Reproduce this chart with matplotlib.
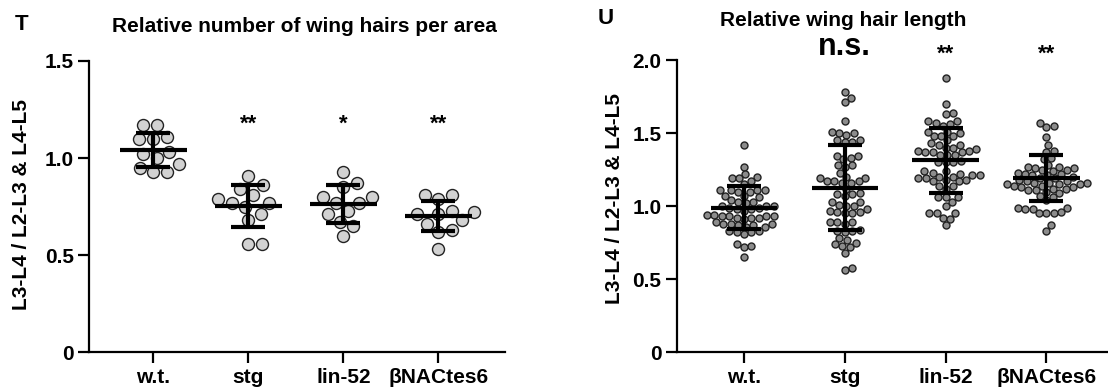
import numpy as np
import matplotlib
matplotlib.use('Agg')
import matplotlib.pyplot as plt

plt.rcParams['font.family'] = ['Liberation Sans', 'DejaVu Sans']
plt.rcParams['font.weight'] = 'bold'

groups = ['w.t.', 'stg', 'lin-52', 'βNACtes6']

# Panel T: relative number of wing hairs per area
hairs_wt = [1.17, 1.10, 1.00, 0.93, 1.17, 1.10, 1.03, 0.95, 1.11, 1.02, 0.97, 0.93]
hairs_stg = [0.91, 0.81, 0.75, 0.68, 0.77, 0.86, 0.79, 0.71, 0.84, 0.77, 0.56, 0.56]
hairs_lin52 = [0.85, 0.77, 0.67, 0.77, 0.93, 0.60, 0.80, 0.73, 0.65, 0.87, 0.80, 0.71]
hairs_bnac = [0.81, 0.81, 0.79, 0.73, 0.72, 0.71, 0.71, 0.68, 0.66, 0.63, 0.62, 0.53]
hairs_mean = [1.04, 0.753, 0.763, 0.702]
hairs_sd = [0.088, 0.108, 0.097, 0.078]
hairs_sig = ['', '**', '*', '**']

# Panel U: relative wing hair length
length_wt = [1.42, 1.27, 1.22, 1.20, 1.19, 1.19, 1.17, 1.15, 1.11, 1.11, 1.10, 1.11,
             1.10, 1.11, 1.07, 1.06, 1.07, 1.03, 1.02, 1.03, 1.04, 1.00, 0.99, 1.00,
             0.98, 1.00, 0.99, 0.97, 0.98, 0.94, 0.93, 0.92, 0.93, 0.94, 0.92, 0.93,
             0.91, 0.93, 0.92, 0.88, 0.87, 0.86, 0.88, 0.87, 0.86, 0.89, 0.88, 0.83,
             0.82, 0.81, 0.83, 0.82, 0.74, 0.73, 0.72, 0.65]
length_stg = [1.78, 1.74, 1.71, 1.58, 1.50, 1.51, 1.49, 1.50, 1.45, 1.44, 1.45, 1.44,
              1.34, 1.33, 1.34, 1.32, 1.28, 1.28, 1.27, 1.23, 1.19, 1.19, 1.20, 1.17,
              1.16, 1.17, 1.16, 1.17, 1.12, 1.08, 1.08, 1.07, 1.09, 1.00, 1.00, 1.01,
              1.03, 1.03, 0.98, 0.97, 0.96, 0.95, 0.96, 0.95, 0.89, 0.89, 0.88, 0.89,
              0.82, 0.83, 0.84, 0.83, 0.78, 0.73, 0.77, 0.72, 0.75, 0.74, 0.68, 0.56, 0.58]
length_lin52 = [1.88, 1.70, 1.63, 1.64, 1.56, 1.58, 1.57, 1.58, 1.55, 1.50, 1.45, 1.40,
                1.48, 1.48, 1.51, 1.48, 1.51, 1.42, 1.43, 1.40, 1.39, 1.42, 1.37, 1.38,
                1.38, 1.37, 1.37, 1.35, 1.35, 1.35, 1.30, 1.30, 1.30, 1.31, 1.24, 1.24,
                1.21, 1.21, 1.23, 1.19, 1.20, 1.18, 1.19, 1.17, 1.20, 1.18, 1.22, 1.17,
                1.12, 1.14, 1.14, 1.06, 1.06, 1.06, 1.00, 1.03, 0.92, 0.95, 0.95, 0.95,
                0.91, 0.87]
length_bnac = [1.54, 1.57, 1.55, 1.47, 1.42, 1.38, 1.37, 1.32, 1.33, 1.27, 1.26, 1.25,
               1.24, 1.26, 1.28, 1.27, 1.25, 1.23, 1.22, 1.22, 1.21, 1.20, 1.19, 1.21,
               1.18, 1.17, 1.19, 1.16, 1.15, 1.16, 1.14, 1.13, 1.17, 1.14, 1.15, 1.16,
               1.13, 1.15, 1.11, 1.12, 1.10, 1.11, 1.09, 1.12, 1.07, 1.06, 1.04, 0.99,
               0.98, 0.99, 0.98, 0.95, 0.95, 0.95, 0.96, 0.87, 0.83]
length_mean = [0.99, 1.125, 1.314, 1.193]
length_sd = [0.148, 0.29, 0.222, 0.157]
length_sig = ['', 'n.s.', '**', '**']


def swarm_x(ax, xc, vals, diam):
    # simple beeswarm in pixel space, like graphpad scatter dot plots
    pts = ax.transData.transform(np.column_stack([np.full(len(vals), xc), vals]))
    ys = pts[:, 1]
    x0 = pts[0, 0]
    xs = np.zeros(len(vals))
    placed = []
    for i in np.argsort(ys):
        y = ys[i]
        near = [(px, py) for px, py in placed if abs(py - y) < diam]
        cands = [0.0]
        for px, py in near:
            dx = np.sqrt(diam ** 2 - (py - y) ** 2)
            cands += [px + dx, px - dx]
        cands.sort(key=abs)
        for c in cands:
            if all((c - px) ** 2 + (y - py) ** 2 >= diam ** 2 - 1e-6 for px, py in near):
                break
        placed.append((c, y))
        xs[i] = c
    back = ax.transData.inverted().transform(np.column_stack([x0 + xs, ys]))
    return back[:, 0]


W, H = 1108, 392
fig = plt.figure(figsize=(W / 100, H / 100), dpi=100)


def panel(rect, ylim, yticks, yticklabels, xlim, data, means, sds, ms_px, gap_px, fill,
          half, cap):
    ax = fig.add_axes(rect)
    ax.set_xlim(*xlim)
    ax.set_ylim(*ylim)
    for s in ['top', 'right']:
        ax.spines[s].set_visible(False)
    for s in ['left', 'bottom']:
        ax.spines[s].set_linewidth(1.6)
    ax.set_yticks(yticks)
    ax.set_yticklabels(yticklabels)
    ax.set_xticks(range(len(groups)))
    ax.set_xticklabels(groups)
    ax.tick_params(length=8, width=1.6, labelsize=15, pad=3)
    for i, vals in enumerate(data):
        xs = swarm_x(ax, i, vals, gap_px)
        ax.scatter(xs, vals, s=(ms_px * 0.72) ** 2, facecolor=fill, edgecolor='#222222',
                   linewidth=1.0, zorder=2, clip_on=False)
    x = np.arange(len(groups))
    ax.hlines(means, x - half, x + half, color='black', lw=3, zorder=3)
    ax.errorbar(x, means, yerr=sds, fmt='none', ecolor='black', elinewidth=3,
                capsize=cap, capthick=3, zorder=3)
    return ax


axT = panel([89.3 / W, 1 - 352.3 / H, (505 - 89.3) / W, (352.3 - 61) / H],
            (0, 1.5), [0, 0.5, 1.0, 1.5], ['0', '0.5', '1.0', '1.5'], (-0.673, 3.70),
            [hairs_wt, hairs_stg, hairs_lin52, hairs_bnac], hairs_mean, hairs_sd,
            12, 14, '#d2d2d2', 0.35, 12)
for i, t in enumerate(hairs_sig):
    axT.text(i, 1.175, t, ha='center', va='center', fontsize=16)

axU = panel([676.7 / W, 1 - 352.3 / H, (1107 - 676.7) / W, (352.3 - 60) / H],
            (0, 2.0), [0, 0.5, 1.0, 1.5, 2.0], ['0', '0.5', '1.0', '1.5', '2.0'],
            (-0.667, 3.60),
            [length_wt, length_stg, length_lin52, length_bnac], length_mean, length_sd,
            7, 7.5, '#8c8c8c', 0.33, 12)
for i, t in enumerate(length_sig):
    if t == 'n.s.':
        axU.text(i, 2.09, t, ha='center', va='center', fontsize=22, clip_on=False)
    elif t:
        axU.text(i, 2.042, t, ha='center', va='center', fontsize=16, clip_on=False)

fig.text(22 / W, 1 - 204 / H, 'L3-L4 / L2-L3 & L4-L5', rotation=90, ha='center',
         va='center', fontsize=15)
fig.text(615 / W, 1 - 198 / H, 'L3-L4 / L2-L3 & L4-L5', rotation=90, ha='center',
         va='center', fontsize=15)
fig.text(304 / W, 1 - 26 / H, 'Relative number of wing hairs per area', ha='center',
         va='center', fontsize=15)
fig.text(843 / W, 1 - 21 / H, 'Relative wing hair length', ha='center', va='center',
         fontsize=15)
fig.text(22 / W, 1 - 24 / H, 'T', ha='center', va='center', fontsize=16)
fig.text(606 / W, 1 - 19 / H, 'U', ha='center', va='center', fontsize=16)

fig.savefig('out.png', dpi=100)
